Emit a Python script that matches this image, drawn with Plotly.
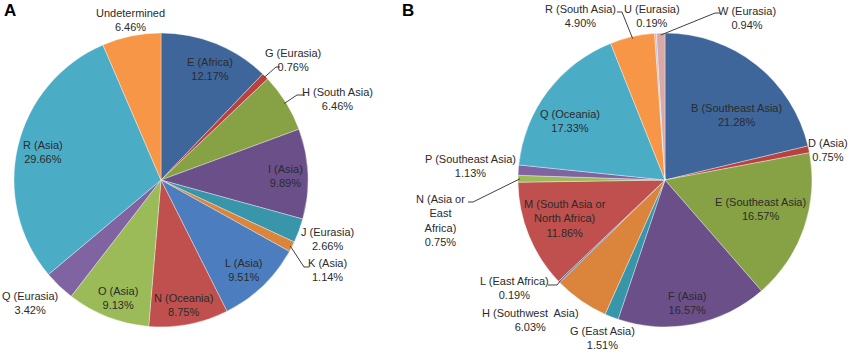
import math
import plotly.graph_objects as go

W, H = 850, 353

# ---- Data: panel A ----
a_labels = ["E (Africa)", "G (Eurasia)", "H (South Asia)", "I (Asia)", "J (Eurasia)",
            "K (Asia)", "L (Asia)", "N (Oceania)", "O (Asia)", "Q (Eurasia)",
            "R (Asia)", "Undetermined"]
a_values = [12.17, 0.76, 6.46, 9.89, 2.66, 1.14, 9.51, 8.75, 9.13, 3.42, 29.66, 6.46]
a_colors = ["#3E669A", "#B8423F", "#87A244", "#6A4F89", "#3995AA", "#DA843C",
            "#4B7DBF", "#C0504D", "#9BBB59", "#8064A2", "#4BACC6", "#F79646"]

# ---- Data: panel B ----
b_labels = ["B (Southeast Asia)", "D (Asia)", "E (Southeast Asia)", "F (Asia)",
            "G (East Asia)", "H (Southwest  Asia)", "L (East Africa)",
            "M (South Asia or<br>North Africa)", "N (Asia or<br>East<br>Africa)",
            "P (Southeast Asia)", "Q (Oceania)", "R (South Asia)", "U (Eurasia)", "W (Eurasia)"]
b_values = [21.28, 0.75, 16.57, 16.57, 1.51, 6.03, 0.19, 11.86, 0.75, 1.13, 17.33, 4.90, 0.19, 0.94]
b_colors = ["#3E669A", "#B8423F", "#87A244", "#6A4F89", "#3995AA", "#DA843C",
            "#4B7DBF", "#C0504D", "#9BBB59", "#8064A2", "#4BACC6", "#F79646",
            "#AFC0DA", "#D9A9A8"]

# ---- Layout (pixel geometry) ----
A_CX, B_CX, CY, R = 161, 665, 180, 147

# label centres (pixels) for each slice, in data order
a_lab_pos = [(210, 69), (293, 60), (337, 99), (285, 176), (327, 239), (327, 270),
             (244, 270), (183, 305), (118, 298), (30, 303), (43, 152), (130, 20)]
b_lab_pos = [(736, 115), (828, 150), (760, 209), (687, 303), (602, 338), (530, 320),
             (514, 288), (565, 218), (440, 220), (471, 166), (570, 121), (580, 16),
             (652, 16), (747, 18)]

# leader lines: slice index -> list of pixel points from label side to slice edge
a_leaders = {1: [(280, 67), (276, 67)], 2: [(305, 95), (297, 95)], 5: [(309, 267), (304, 267)]}
b_leaders = {11: [(617, 12), (622, 12)], 13: [(720, 13), (715, 13)],
             6: [(548, 285), (557, 285)], 8: [(468, 202), (473, 202)]}


def px(x, y):
    return x / W, 1 - y / H


def edge_point(values, idx, cx, cy, r):
    cum = sum(values[:idx]) + values[idx] / 2
    th = 2 * math.pi * cum / sum(values)
    return cx + r * math.sin(th), cy - r * math.cos(th)


fig = go.Figure()
for vals, labs, cols, cx in [(a_values, a_labels, a_colors, A_CX),
                             (b_values, b_labels, b_colors, B_CX)]:
    fig.add_trace(go.Pie(
        values=vals, labels=labs, sort=False, direction="clockwise", rotation=0,
        marker=dict(colors=cols, line=dict(color="rgba(255,255,255,0.6)", width=0.6)),
        textinfo="none", hoverinfo="label+percent", showlegend=False,
        domain=dict(x=[(cx - R) / W, (cx + R) / W], y=[(H - CY - R) / H, (H - CY + R) / H]),
    ))

annotations = []
shapes = []
FONT = dict(family="Liberation Sans, Arial, sans-serif", size=11, color="#2b2b2b")

for vals, labs, pos, leaders, cx in [(a_values, a_labels, a_lab_pos, a_leaders, A_CX),
                                     (b_values, b_labels, b_lab_pos, b_leaders, B_CX)]:
    for i, (lab, v) in enumerate(zip(labs, vals)):
        x, y = px(*pos[i])
        annotations.append(dict(x=x, y=y, xref="paper", yref="paper", showarrow=False,
                                text=f"{lab}<br>{v:.2f}%", font=FONT, align="center",
                                xanchor="center", yanchor="middle"))
    for i, pts in leaders.items():
        ex, ey = edge_point(vals, i, cx, CY, R - 2)
        chain = pts + [(ex, ey)]
        for (x0, y0), (x1, y1) in zip(chain[:-1], chain[1:]):
            X0, Y0 = px(x0, y0)
            X1, Y1 = px(x1, y1)
            shapes.append(dict(type="line", xref="paper", yref="paper", x0=X0, y0=Y0,
                               x1=X1, y1=Y1, line=dict(color="#404040", width=1)))

for t, (x, y) in [("A", (10, 11)), ("B", (408, 11))]:
    X, Y = px(x, y)
    annotations.append(dict(x=X, y=Y, xref="paper", yref="paper", showarrow=False, text=f"<b>{t}</b>",
                            font=dict(family="Liberation Sans, Arial, sans-serif", size=17, color="#000"),
                            xanchor="center", yanchor="middle"))

fig.update_layout(width=W, height=H, margin=dict(l=0, r=0, t=0, b=0),
                  paper_bgcolor="white", plot_bgcolor="white",
                  annotations=annotations, shapes=shapes)
fig.write_html("out.html", config={"displayModeBar": False},
               post_script="document.body.style.margin='0';document.body.style.overflow='hidden';")
